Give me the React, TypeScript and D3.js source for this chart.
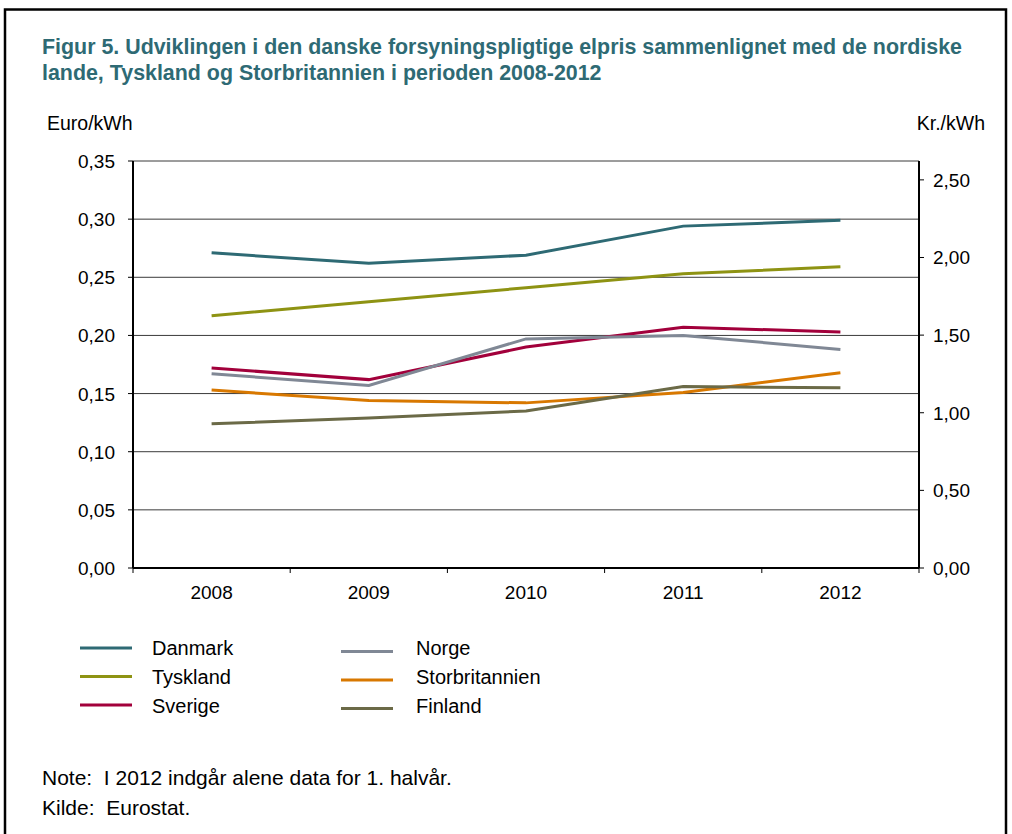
import React from "react";
import * as d3 from "d3";

const years = ["2008", "2009", "2010", "2011", "2012"];
const danmark = [0.271, 0.262, 0.269, 0.294, 0.299];
const tyskland = [0.217, 0.229, 0.241, 0.253, 0.259];
const sverige = [0.172, 0.162, 0.19, 0.207, 0.203];
const norge = [0.167, 0.157, 0.197, 0.2, 0.188];
const storbritannien = [0.153, 0.144, 0.142, 0.151, 0.168];
const finland = [0.124, 0.129, 0.135, 0.156, 0.155];
const leftTicks = [0, 0.05, 0.1, 0.15, 0.2, 0.25, 0.3, 0.35];
const rightTicks = [0, 0.5, 1, 1.5, 2, 2.5];

const seriesList = [
  { name: "Danmark", values: danmark, color: "#2e6a74", col: 0, row: 0 },
  { name: "Tyskland", values: tyskland, color: "#8e9313", col: 0, row: 1 },
  { name: "Sverige", values: sverige, color: "#a2003b", col: 0, row: 2 },
  { name: "Norge", values: norge, color: "#808895", col: 1, row: 0 },
  { name: "Storbritannien", values: storbritannien, color: "#d87800", col: 1, row: 1 },
  { name: "Finland", values: finland, color: "#6b6a47", col: 1, row: 2 },
];

const W = 1012;
const H = 834;
const left = 133;
const right = 919;
const top = 161;
const bottom = 568;
const font = "'Liberation Sans', Arial, sans-serif";

export default function App() {
  const x = d3.scaleBand<string>().domain(years).range([left, right]);
  const y = d3.scaleLinear().domain([0, 0.35]).range([bottom, top]);
  const y2 = d3.scaleLinear().domain([0, 0.35 * 7.49]).range([bottom, top]);
  const line = d3
    .line<number>()
    .x((_, i) => (x(years[i]) as number) + x.bandwidth() / 2)
    .y((d) => y(d));
  const fmt = (v: number) => d3.format(".2f")(v).replace(".", ",");
  const boundaries = d3.range(years.length + 1).map((i) => left + i * x.step());

  return (
    <svg
      width={W}
      height={H}
      style={{ position: "absolute", left: 0, top: 0, display: "block" }}
    >
      <rect x={0} y={0} width={W} height={H} fill="#fff" />
      <rect x={5} y={9.5} width={1001} height={900} fill="none" stroke="#000" strokeWidth={2.5} />
      <text x={42} y={54} fontFamily={font} fontWeight="bold" fontSize={21.4} fill="#2e6a74">
        Figur 5. Udviklingen i den danske forsyningspligtige elpris sammenlignet med de nordiske
      </text>
      <text x={42} y={80} fontFamily={font} fontWeight="bold" fontSize={21.4} fill="#2e6a74">
        lande, Tyskland og Storbritannien i perioden 2008-2012
      </text>
      <text x={47} y={130} fontFamily={font} fontSize={19.5} fill="#000">Euro/kWh</text>
      <text x={985} y={130} fontFamily={font} fontSize={19.5} fill="#000" textAnchor="end">Kr./kWh</text>

      {leftTicks.map((t) => (
        <g key={"l" + t}>
          {t > 0 && (
            <line x1={left} x2={right} y1={y(t)} y2={y(t)} stroke="#3a3a3a" strokeWidth={1} />
          )}
          <line x1={left - 5} x2={left} y1={y(t)} y2={y(t)} stroke="#000" strokeWidth={1} />
          <text x={115} y={y(t) + 7} fontFamily={font} fontSize={19} textAnchor="end" fill="#000">
            {fmt(t)}
          </text>
        </g>
      ))}
      {rightTicks.map((t) => (
        <g key={"r" + t}>
          <line x1={right} x2={right + 5} y1={y2(t)} y2={y2(t)} stroke="#000" strokeWidth={1} />
          <text x={933} y={y2(t) + 7} fontFamily={font} fontSize={19} fill="#000">
            {fmt(t)}
          </text>
        </g>
      ))}
      {boundaries.map((b, i) => (
        <line key={"b" + i} x1={b} x2={b} y1={bottom} y2={bottom + 5} stroke="#000" strokeWidth={1} />
      ))}
      {years.map((yr) => (
        <text
          key={yr}
          x={(x(yr) as number) + x.bandwidth() / 2}
          y={599}
          fontFamily={font}
          fontSize={19}
          textAnchor="middle"
          fill="#000"
        >
          {yr}
        </text>
      ))}
      <line x1={left} x2={left} y1={top} y2={bottom} stroke="#000" strokeWidth={2} />
      <line x1={right} x2={right} y1={top} y2={bottom} stroke="#000" strokeWidth={2} />
      <line x1={left} x2={right} y1={bottom} y2={bottom} stroke="#000" strokeWidth={2} />

      {seriesList.map((s) => (
        <path key={s.name} d={line(s.values) || ""} fill="none" stroke={s.color} strokeWidth={3} />
      ))}

      {seriesList.map((s) => {
        const lx = s.col === 0 ? 80 : 341;
        const tx = s.col === 0 ? 152 : 416;
        const ly = 648 + s.row * 28.5 + (s.col === 1 ? 3.5 : 0);
        const ty = 655 + s.row * 29;
        return (
          <g key={"lg" + s.name}>
            <line x1={lx} x2={lx + 52} y1={ly} y2={ly} stroke={s.color} strokeWidth={3} />
            <text x={tx} y={ty} fontFamily={font} fontSize={20} fill="#000">
              {s.name}
            </text>
          </g>
        );
      })}

      <text x={42} y={785} fontFamily={font} fontSize={21} fill="#000" xmlSpace="preserve">
        {"Note:  I 2012 indgår alene data for 1. halvår."}
      </text>
      <text x={42} y={815} fontFamily={font} fontSize={21} fill="#000" xmlSpace="preserve">
        {"Kilde:  Eurostat."}
      </text>
    </svg>
  );
}
